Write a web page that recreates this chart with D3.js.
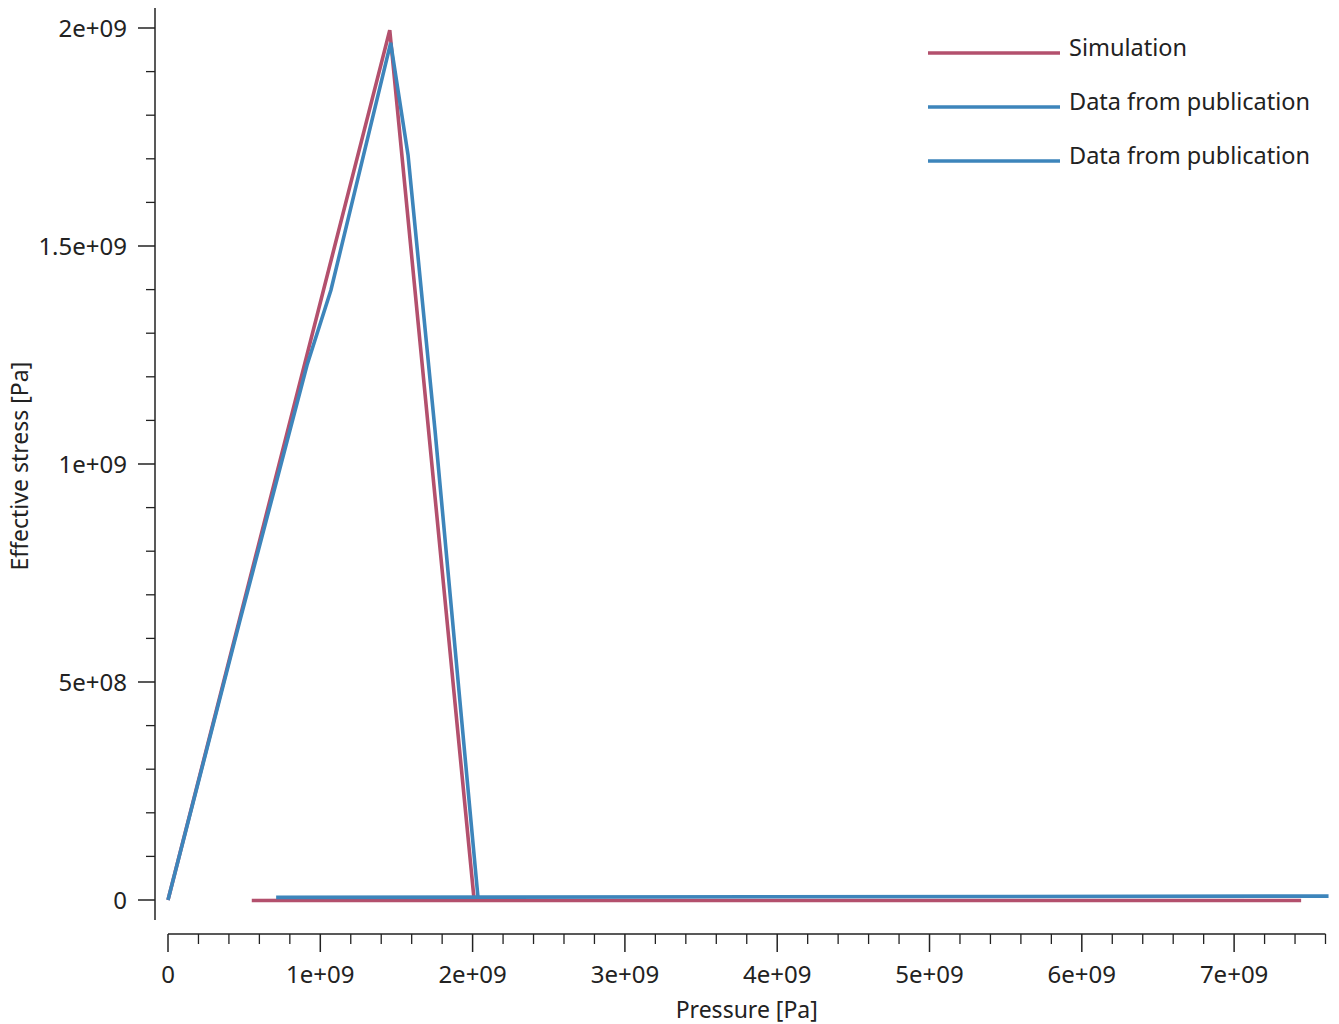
<!DOCTYPE html>
<html>
<head>
<meta charset="utf-8">
<script src="https://cdn.jsdelivr.net/npm/d3@7"></script>
<style>
  html, body { margin: 0; padding: 0; background: #fff; }
  svg { display: block; }
  text { font-family: "Noto Sans", "Open Sans", sans-serif; fill: #222; }
</style>
</head>
<body>
<svg id="chart" width="1339" height="1024"></svg>
<script>
// ---- data ----
const simulationX = [0, 1.456e9, 2.01e9, 0.55e9, 7.44e9];
const simulationY = [0, 1.995e9, 0.0, -1.0e6, -1.0e6];

const publication1X = [0, 0.473e9, 0.689e9, 0.913e9, 1.07e9, 1.462e9, 1.576e9, 1.753e9, 2.035e9];
const publication1Y = [0, 0.642e9, 0.929e9, 1.227e9, 1.399e9, 1.966e9, 1.709e9, 1.078e9, 0.007e9];

const publication2X = [0.71e9, 7.62e9];
const publication2Y = [6.0e6, 9.0e6];

const seriesNames = ["Simulation", "Data from publication", "Data from publication"];

const xMajorTicks = [0, 1e9, 2e9, 3e9, 4e9, 5e9, 6e9, 7e9];
const xTickLabels = ["0", "1e+09", "2e+09", "3e+09", "4e+09", "5e+09", "6e+09", "7e+09"];
const yMajorTicks = [0, 5e8, 1e9, 1.5e9, 2e9];
const yTickLabels = ["0", "5e+08", "1e+09", "1.5e+09", "2e+09"];

const xLabel = "Pressure [Pa]";
const yLabel = "Effective stress [Pa]";

// ---- layout ----
const colors = ["#b3506d", "#3d85bb", "#3d85bb"];
const svg = d3.select("#chart");

const xDomain = [0, 7.6e9];
const yDomain = [-0.046e9, 2.046e9];
const x = d3.scaleLinear().domain([0, 7.6e9]).range([168, 1325.5]);
const y = d3.scaleLinear().domain([0, 2e9]).range([900, 28]);

const axisColor = "#222";
const tickFont = 24;
const labelFont = 23;
const lineW = 3.6;

// X axis
const xAxisY = 934;
const xMinor = d3.range(0, 7.6e9 + 1, 2e8).filter(v => !xMajorTicks.includes(Math.round(v / 1e8) * 1e8));
const gx = svg.append("g").attr("transform", `translate(0,${xAxisY})`);
gx.append("line").attr("x1", x(xDomain[0])).attr("x2", x(xDomain[1]))
  .attr("y1", 0).attr("y2", 0).attr("stroke", axisColor).attr("stroke-width", 1.5);
gx.selectAll("line.minor").data(xMinor).enter().append("line")
  .attr("class", "minor").attr("x1", d => x(d)).attr("x2", d => x(d))
  .attr("y1", 0).attr("y2", 10).attr("stroke", axisColor).attr("stroke-width", 1.3);
gx.selectAll("line.major").data(xMajorTicks).enter().append("line")
  .attr("class", "major").attr("x1", d => x(d)).attr("x2", d => x(d))
  .attr("y1", 0).attr("y2", 18).attr("stroke", axisColor).attr("stroke-width", 1.5);
gx.selectAll("text").data(xMajorTicks).enter().append("text")
  .attr("x", d => x(d)).attr("y", 49).attr("text-anchor", "middle")
  .attr("font-size", tickFont).text((d, i) => xTickLabels[i]);

// Y axis
const yAxisX = 155;
const yMinor = d3.range(-0.0e9, 2.05e9, 1e8).filter(v => !yMajorTicks.some(m => Math.abs(m - v) < 1));
const gy = svg.append("g").attr("transform", `translate(${yAxisX},0)`);
gy.append("line").attr("x1", 0).attr("x2", 0)
  .attr("y1", y(yDomain[0])).attr("y2", y(yDomain[1])).attr("stroke", axisColor).attr("stroke-width", 1.5);
gy.selectAll("line.minor").data(yMinor).enter().append("line")
  .attr("class", "minor").attr("x1", -9).attr("x2", 0)
  .attr("y1", d => y(d)).attr("y2", d => y(d)).attr("stroke", axisColor).attr("stroke-width", 1.3);
gy.selectAll("line.major").data(yMajorTicks).enter().append("line")
  .attr("class", "major").attr("x1", -17).attr("x2", 0)
  .attr("y1", d => y(d)).attr("y2", d => y(d)).attr("stroke", axisColor).attr("stroke-width", 1.5);
gy.selectAll("text").data(yMajorTicks).enter().append("text")
  .attr("x", -28).attr("y", d => y(d)).attr("dy", "0.37em").attr("text-anchor", "end")
  .attr("font-size", tickFont).text((d, i) => yTickLabels[i]);

// Axis labels
svg.append("text").attr("x", x(3.8e9)).attr("y", 1018).attr("text-anchor", "middle")
  .attr("font-size", labelFont).text(xLabel);
svg.append("text").attr("transform", `translate(28,${y(0.995e9)}) rotate(-90)`)
  .attr("text-anchor", "middle").attr("font-size", labelFont).text(yLabel);

// Lines
const line = d3.line().x(d => x(d[0])).y(d => y(d[1]));
const series = [
  d3.zip(simulationX, simulationY),
  d3.zip(publication1X, publication1Y),
  d3.zip(publication2X, publication2Y)
];
const drawOrder = [0, 2, 1];
drawOrder.forEach(i => {
  svg.append("path").datum(series[i]).attr("d", line)
    .attr("fill", "none").attr("stroke", colors[i]).attr("stroke-width", lineW)
    .attr("stroke-linejoin", "miter");
});

// Legend
const lg = svg.append("g");
seriesNames.forEach((name, i) => {
  const yy = 53 + i * 54;
  lg.append("line").attr("x1", 928).attr("x2", 1060).attr("y1", yy).attr("y2", yy)
    .attr("stroke", colors[i]).attr("stroke-width", lineW);
  lg.append("text").attr("x", 1069).attr("y", yy - 5).attr("dy", "0.35em")
    .attr("font-size", 23.5).text(name);
});
</script>
</body>
</html>
